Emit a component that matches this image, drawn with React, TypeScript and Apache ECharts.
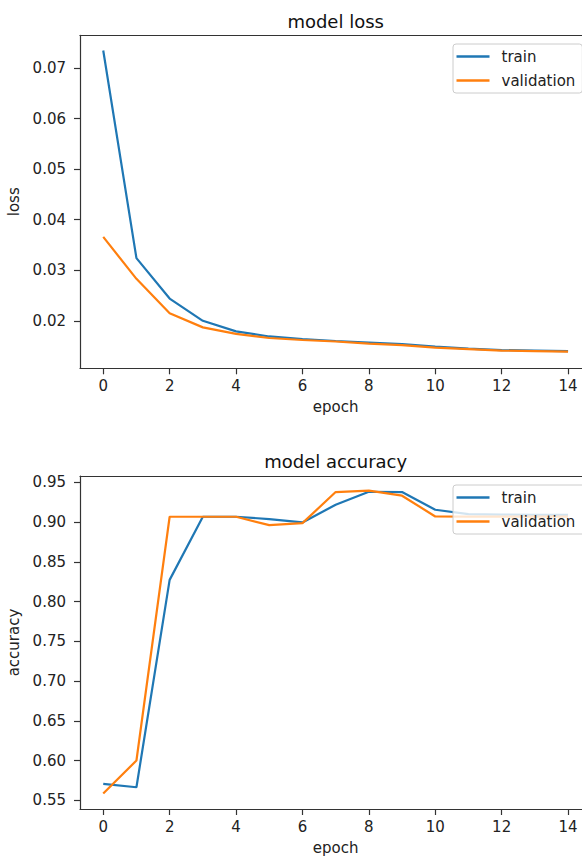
import React, { useEffect, useRef } from "react";
import * as echarts from "echarts";

const epochs = [0, 1, 2, 3, 4, 5, 6, 7, 8, 9, 10, 11, 12, 13, 14];
const trainLoss = [0.0735, 0.0324, 0.0244, 0.0200, 0.0179, 0.0169, 0.0164, 0.0160, 0.0157, 0.0154, 0.0149, 0.0145, 0.0142, 0.0141, 0.0140];
const valLoss = [0.0366, 0.0283, 0.0215, 0.0187, 0.0174, 0.0166, 0.0162, 0.0159, 0.0155, 0.0152, 0.0147, 0.0144, 0.0141, 0.0140, 0.0139];
const trainAcc = [0.5705, 0.5664, 0.8273, 0.9067, 0.9067, 0.9038, 0.8996, 0.9218, 0.9382, 0.9378, 0.9155, 0.9101, 0.9095, 0.9090, 0.9090];
const valAcc = [0.5584, 0.6000, 0.9067, 0.9067, 0.9067, 0.8962, 0.8987, 0.9378, 0.9395, 0.9332, 0.9071, 0.9070, 0.9070, 0.9070, 0.9070];
const xTicks = [0, 2, 4, 6, 8, 10, 12, 14];
const lossTicks = [0.02, 0.03, 0.04, 0.05, 0.06, 0.07];
const accTicks = [0.55, 0.6, 0.65, 0.7, 0.75, 0.8, 0.85, 0.9, 0.95];
const seriesNames = ["train", "validation"];
const titles = ["model loss", "model accuracy"];
const yNames = ["loss", "accuracy"];
const xName = "epoch";

const FONT = "DejaVu Sans";
const BLUE = "#1f77b4";
const ORANGE = "#ff7f0e";
const INK = "#222222";
const SPINE = "#333333";

const GRID_LEFT = 80;
const GRID_WIDTH = 511.3;
const GRID_H = 333;
const GRID_TOPS = [35.3, 476];

export default function App() {
  const ref = useRef<HTMLDivElement>(null);
  useEffect(() => {
    if (!ref.current) return;
    const chart = echarts.init(ref.current, null, { renderer: "svg" });

    const pairs = (vals: number[]) => epochs.map((e, i) => [e, vals[i]]);

    const xAxisBase = (gridIndex: number) => ({
      type: "value",
      gridIndex,
      position: "bottom",
      min: -0.7,
      max: 14.7,
      name: xName,
      nameLocation: "middle",
      nameGap: 31,
      nameTextStyle: { fontFamily: FONT, fontSize: 15, color: INK },
      splitLine: { show: false },
      axisLine: { show: true, onZero: false, lineStyle: { color: SPINE, width: 1.2 } },
      axisTick: { show: true, length: 6, customValues: xTicks, lineStyle: { color: SPINE, width: 1.2 } },
      axisLabel: {
        customValues: xTicks,
        margin: 10,
        fontFamily: FONT,
        fontSize: 15,
        color: INK,
        formatter: (v: number) => String(v),
      },
    });

    const xAxisTop = (gridIndex: number) => ({
      type: "value",
      gridIndex,
      position: "top",
      min: -0.7,
      max: 14.7,
      splitLine: { show: false },
      axisLine: { show: true, onZero: false, lineStyle: { color: SPINE, width: 1.2 } },
      axisTick: { show: false },
      axisLabel: { show: false },
    });

    const yAxisBase = (gridIndex: number, min: number, max: number, ticks: number[], name: string) => ({
      type: "value",
      gridIndex,
      min,
      max,
      name,
      nameLocation: "middle",
      nameGap: 50,
      nameTextStyle: { fontFamily: FONT, fontSize: 15, color: INK },
      splitLine: { show: false },
      axisLine: { show: true, onZero: false, lineStyle: { color: SPINE, width: 1.2 } },
      axisTick: { show: true, length: 6, customValues: ticks, lineStyle: { color: SPINE, width: 1.2 } },
      axisLabel: {
        customValues: ticks,
        margin: 14,
        fontFamily: FONT,
        fontSize: 15,
        color: INK,
        formatter: (v: number) => v.toFixed(2),
      },
    });

    const legendBase = (top: number, idx: number) => ({
      orient: "vertical",
      left: 453,
      top,
      z: 10,
      data: seriesNames.map((n) => ({ name: n + (idx ? " " : "") })),
      icon: "rect",
      itemWidth: 33,
      itemHeight: 2.4,
      itemGap: 9,
      padding: [5, 7, 5, 3.5],
      backgroundColor: "rgba(255,255,255,0.8)",
      borderColor: "#cccccc",
      borderWidth: 1,
      borderRadius: 3,
      textStyle: {
        fontFamily: FONT,
        fontSize: 15,
        lineHeight: 15,
        color: INK,
        padding: [0, 0, 0, 7],
      },
    });

    const line = (name: string, vals: number[], color: string, idx: number) => ({
      type: "line",
      name,
      xAxisIndex: idx,
      yAxisIndex: idx,
      data: pairs(vals),
      showSymbol: false,
      symbol: "none",
      lineStyle: { color, width: 2.2 },
      itemStyle: { color },
      emphasis: { disabled: true },
    });

    chart.setOption({
      animation: false,
      grid: GRID_TOPS.map((top) => ({
        left: GRID_LEFT,
        top,
        width: GRID_WIDTH,
        height: GRID_H,
        show: false,
        containLabel: false,
        outerBoundsMode: "none",
      })),
      xAxis: [xAxisBase(0), xAxisBase(1), xAxisTop(0), xAxisTop(1)],
      yAxis: [
        yAxisBase(0, 0.0106, 0.0765, lossTicks, yNames[0]),
        yAxisBase(1, 0.539, 0.958, accTicks, yNames[1]),
      ],
      legend: [legendBase(44, 0), legendBase(485, 1)],
      graphic: [
        {
          type: "text",
          x: GRID_LEFT + GRID_WIDTH / 2,
          y: 21,
          style: { text: titles[0], fontFamily: FONT, fontSize: 18, fill: "#111", align: "center", verticalAlign: "middle" },
        },
        {
          type: "text",
          x: GRID_LEFT + GRID_WIDTH / 2,
          y: 461.7,
          style: { text: titles[1], fontFamily: FONT, fontSize: 18, fill: "#111", align: "center", verticalAlign: "middle" },
        },
      ],
      series: [
        line(seriesNames[0], trainLoss, BLUE, 0),
        line(seriesNames[1], valLoss, ORANGE, 0),
        line(seriesNames[0] + " ", trainAcc, BLUE, 1),
        line(seriesNames[1] + " ", valAcc, ORANGE, 1),
      ],
    });
    return () => chart.dispose();
  }, []);

  return (
    <div style={{ position: "absolute", left: 0, top: 0, width: 582, height: 859, overflow: "hidden", background: "#fff" }}>
      <div ref={ref} style={{ width: 620, height: 859 }} />
    </div>
  );
}
